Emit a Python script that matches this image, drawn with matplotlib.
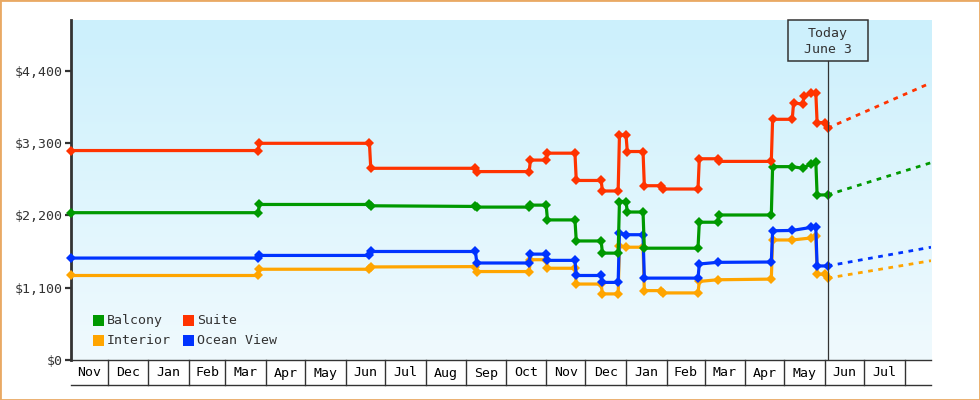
import matplotlib
matplotlib.use("Agg")
import matplotlib.pyplot as plt
import matplotlib.dates as mdates
from matplotlib.patches import Rectangle
from matplotlib.transforms import blended_transform_factory
import numpy as np
import pandas as pd

# ---------------- data ----------------
suite_dates = ["2022-11-03", "2023-03-26", "2023-03-27", "2023-06-19", "2023-06-20", "2023-09-08",
               "2023-09-09", "2023-10-19", "2023-10-20", "2023-11-01", "2023-11-02", "2023-11-23",
               "2023-11-24", "2023-12-13", "2023-12-14", "2023-12-26", "2023-12-27", "2024-01-01",
               "2024-01-02", "2024-01-14", "2024-01-15", "2024-01-28", "2024-01-29", "2024-02-25",
               "2024-02-26", "2024-03-11", "2024-03-12", "2024-04-21", "2024-04-22", "2024-05-07",
               "2024-05-08", "2024-05-15", "2024-05-16", "2024-05-21", "2024-05-25", "2024-05-26",
               "2024-06-01", "2024-06-03"]
suite_prices = [3185, 3185, 3295, 3295, 2915, 2915,
                2865, 2865, 3040, 3040, 3145, 3145,
                2730, 2730, 2570, 2570, 3420, 3420,
                3170, 3170, 2650, 2650, 2600, 2600,
                3060, 3060, 3020, 3020, 3660, 3660,
                3910, 3890, 4015, 4055, 4065, 3610,
                3610, 3525]

balcony_dates = ["2022-11-03", "2023-03-26", "2023-03-27", "2023-06-19", "2023-06-20", "2023-09-08",
                 "2023-09-09", "2023-10-19", "2023-10-20", "2023-11-01", "2023-11-02", "2023-11-23",
                 "2023-11-24", "2023-12-13", "2023-12-14", "2023-12-26", "2023-12-27", "2024-01-01",
                 "2024-01-02", "2024-01-14", "2024-01-15", "2024-02-25", "2024-02-26", "2024-03-11",
                 "2024-03-12", "2024-04-21", "2024-04-22", "2024-05-07", "2024-05-15", "2024-05-21",
                 "2024-05-25", "2024-05-26", "2024-06-03"]
balcony_prices = [2240, 2240, 2365, 2365, 2345, 2335,
                  2325, 2325, 2355, 2355, 2130, 2130,
                  1810, 1810, 1625, 1625, 2410, 2410,
                  2250, 2250, 1700, 1700, 2095, 2095,
                  2205, 2205, 2940, 2940, 2915, 2980,
                  3015, 2510, 2510]

ocean_dates = ["2022-11-03", "2023-03-26", "2023-03-27", "2023-06-19", "2023-06-20", "2023-09-08",
               "2023-09-09", "2023-10-19", "2023-10-20", "2023-11-01", "2023-11-02", "2023-11-23",
               "2023-11-24", "2023-12-13", "2023-12-14", "2023-12-26", "2023-12-27", "2024-01-01",
               "2024-01-14", "2024-01-15", "2024-02-25", "2024-02-26", "2024-03-11", "2024-04-21",
               "2024-04-22", "2024-05-07", "2024-05-21", "2024-05-25", "2024-05-26", "2024-06-03"]
ocean_prices = [1550, 1550, 1590, 1590, 1650, 1650,
                1475, 1475, 1610, 1610, 1515, 1515,
                1285, 1285, 1180, 1180, 1930, 1905,
                1905, 1245, 1245, 1460, 1485, 1490,
                1965, 1970, 2015, 2015, 1430, 1430]

interior_dates = ["2022-11-03", "2023-03-26", "2023-03-27", "2023-06-19", "2023-06-20", "2023-09-08",
                  "2023-09-09", "2023-10-19", "2023-10-20", "2023-11-01", "2023-11-02", "2023-11-23",
                  "2023-11-24", "2023-12-13", "2023-12-14", "2023-12-26", "2023-12-27", "2024-01-01",
                  "2024-01-14", "2024-01-15", "2024-01-28", "2024-01-29", "2024-02-25", "2024-02-26",
                  "2024-03-11", "2024-04-21", "2024-04-22", "2024-05-07", "2024-05-21", "2024-05-25",
                  "2024-05-26", "2024-06-01", "2024-06-03"]
interior_prices = [1285, 1285, 1380, 1380, 1415, 1420,
                   1345, 1345, 1525, 1525, 1395, 1395,
                   1155, 1155, 1005, 1005, 1735, 1715,
                   1715, 1055, 1055, 1020, 1020, 1195,
                   1220, 1230, 1825, 1825, 1855, 1890,
                   1305, 1305, 1245]

series_names = ["Balcony", "Interior", "Suite", "Ocean View"]
series_colors = ["#009900", "#ffa500", "#ff3300", "#0033ff"]
projection_end_date = "2024-08-21"
projection_end = {"Suite": 4215, "Balcony": 3000, "Ocean View": 1715, "Interior": 1510}

y_ticks = [0, 1100, 2200, 3300, 4400]
today_date = "2024-06-03"
today_text = "Today\nJune 3"
x_start, x_end = "2022-11-03", "2024-08-21"
label_months = pd.date_range("2022-11-01", "2024-07-01", freq="MS")
sep_months = pd.date_range("2022-12-01", "2024-08-01", freq="MS")

# ---------------- figure ----------------
W, H = 980, 400
fig = plt.figure(figsize=(W / 100, H / 100), dpi=100)
fig.patch.set_facecolor("white")
L, R, T, B = 71, 931, 20, 360
ax = fig.add_axes([L / W, (H - B) / H, (R - L) / W, (B - T) / H])
mono = "DejaVu Sans Mono"
fs = 9.5
dark = "#333333"

# gradient background
top_c = np.array([204, 240, 252]) / 255
bot_c = np.array([240, 250, 254]) / 255
grad = np.linspace(0, 1, 256)[:, None, None] * (bot_c - top_c) + top_c
ax.imshow(grad, extent=[0, 1, 0, 1], transform=ax.transAxes, aspect="auto", zorder=0)

data = {
    "Suite": (suite_dates, suite_prices),
    "Balcony": (balcony_dates, balcony_prices),
    "Ocean View": (ocean_dates, ocean_prices),
    "Interior": (interior_dates, interior_prices),
}
color_of = dict(zip(series_names, series_colors))
draw_order = ["Interior", "Ocean View", "Balcony", "Suite"]
for name in draw_order:
    d, p = data[name]
    d = pd.to_datetime(d)
    c = color_of[name]
    ax.plot(d, p, color=c, lw=2.3, marker="D", ms=5.6, mew=0, zorder=3,
            solid_joinstyle="miter", clip_on=False)
    ax.plot([d[-1], pd.Timestamp(projection_end_date)], [p[-1], projection_end[name]],
            color=c, lw=2.0, linestyle=(0, (1.7, 2.0)), zorder=2)

xmin, xmax = pd.Timestamp(x_start), pd.Timestamp(x_end)
ax.set_xlim(xmin, xmax)
ax.set_ylim(0, 5170)

# spines
for s in ["top", "right"]:
    ax.spines[s].set_visible(False)
ax.spines["left"].set_linewidth(2.0)
ax.spines["left"].set_color(dark)
ax.spines["bottom"].set_linewidth(1.0)
ax.spines["bottom"].set_color(dark)

ax.set_yticks(y_ticks)
ax.set_yticklabels([f"${v:,}" for v in y_ticks], fontfamily=mono, fontsize=fs, color=dark)
ax.tick_params(axis="y", length=4.3, width=1.6, color=dark, pad=1.5)
ax.set_xticks([])

# month label row
bt = blended_transform_factory(ax.transData, ax.transAxes)
row_h = 25 / (B - T)
for m in sep_months:
    ax.plot([m, m], [0, -row_h], color=dark, lw=1.0, transform=bt, clip_on=False)
ax.plot([0, 1], [-row_h, -row_h], color=dark, lw=1.0, transform=ax.transAxes, clip_on=False)
for m in label_months:
    a = max(m, xmin)
    b = min(m + pd.offsets.MonthBegin(1), xmax)
    mid = a + (b - a) / 2
    ax.text(mid, -13 / (B - T), m.strftime("%b"), transform=bt, ha="center", va="center",
            fontfamily=mono, fontsize=fs, color="black")

# today marker
today = pd.Timestamp(today_date)
box_bottom = (B - 60.7) / (B - T)
ax.plot([today, today], [0, box_bottom], color=dark, lw=0.9, transform=bt, zorder=4)
days_per_px = (xmax - xmin).days / (R - L)
half = pd.Timedelta(days=40 * days_per_px)
ax.add_patch(Rectangle((mdates.date2num(today - half), box_bottom),
                       mdates.date2num(today + half) - mdates.date2num(today - half),
                       1 - box_bottom, transform=bt, facecolor="none", edgecolor=dark,
                       lw=1.1, zorder=5, clip_on=False))
ax.text(today, (B - 41.5) / (B - T), today_text, transform=bt, ha="center", va="center",
        fontfamily=mono, fontsize=fs, color=dark, linespacing=1.35, zorder=6)

# legend (manual)
def afrac(px, py):
    return (px - L) / (R - L), (B - py) / (B - T)

legend_layout = [("Balcony", 93.3, 320.5), ("Interior", 93.3, 340.5),
                 ("Suite", 183.3, 320.5), ("Ocean View", 183.3, 340.5)]
sq = 11
for name, px, py in legend_layout:
    x0, y0 = afrac(px, py + sq / 2)
    ax.add_patch(Rectangle((x0, y0), sq / (R - L), sq / (B - T), transform=ax.transAxes,
                           facecolor=color_of[name], edgecolor="none", zorder=6))
    tx, ty = afrac(px + 13.5, py)
    ax.text(tx, ty, name, transform=ax.transAxes, ha="left", va="center",
            fontfamily=mono, fontsize=fs, color=dark, zorder=6)

# figure border
fig.patches.append(Rectangle((0, 0), 1, 1, transform=fig.transFigure, fill=False,
                             edgecolor="#e9a964", lw=2.0))

fig.savefig("out.png", dpi=100)
